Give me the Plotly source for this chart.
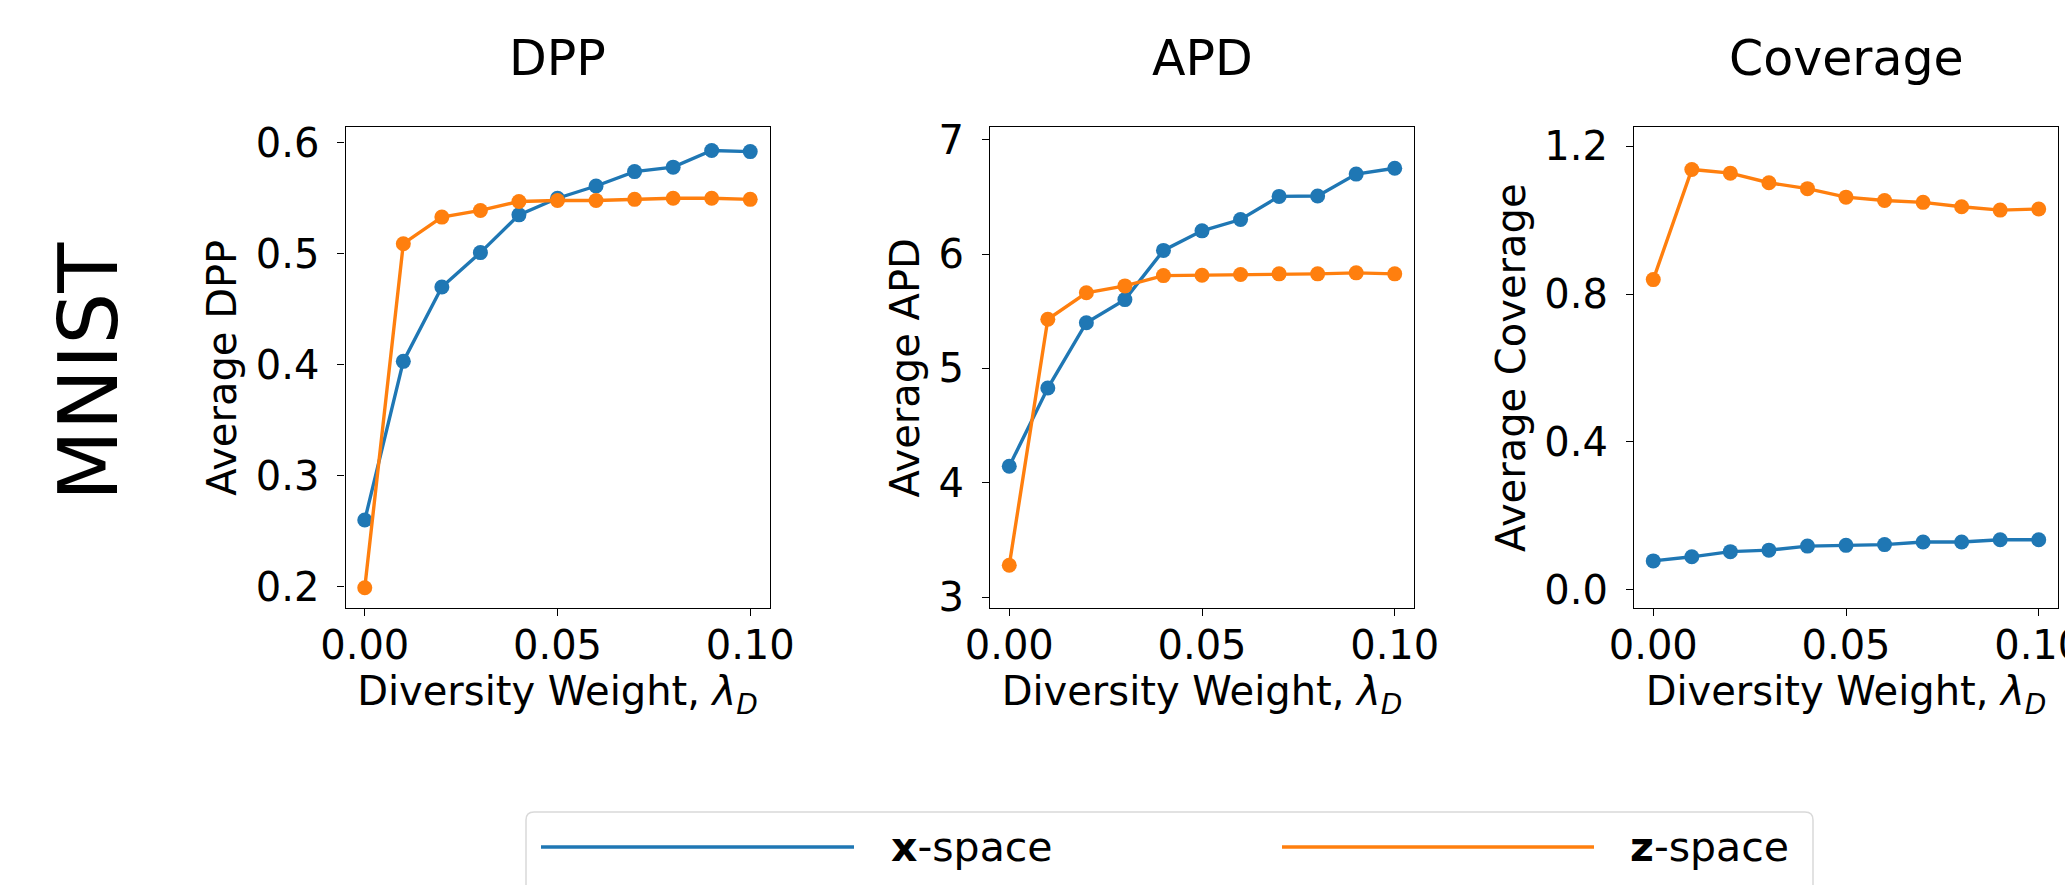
import plotly.graph_objects as go

# ---------------- data ----------------
lambda_d = [0.00, 0.01, 0.02, 0.03, 0.04, 0.05, 0.06, 0.07, 0.08, 0.09, 0.10]

dpp_x = [0.260, 0.403, 0.470, 0.501, 0.535, 0.550, 0.561, 0.574, 0.578, 0.593, 0.592]
dpp_z = [0.199, 0.509, 0.533, 0.539, 0.547, 0.548, 0.548, 0.549, 0.550, 0.550, 0.549]

apd_x = [4.146, 4.829, 5.400, 5.602, 6.032, 6.203, 6.302, 6.504, 6.507, 6.699, 6.750]
apd_z = [3.280, 5.430, 5.662, 5.722, 5.812, 5.815, 5.821, 5.827, 5.827, 5.836, 5.827]

cov_x = [0.078, 0.089, 0.103, 0.107, 0.118, 0.120, 0.122, 0.129, 0.129, 0.135, 0.135]
cov_z = [0.839, 1.137, 1.127, 1.101, 1.085, 1.062, 1.053, 1.048, 1.036, 1.027, 1.030]

panel_titles = ["DPP", "APD", "Coverage"]
y_titles = ["Average DPP", "Average APD", "Average Coverage"]
series_names = ["x-space", "z-space"]
x_ticks = [0.00, 0.05, 0.10]
x_ticktext = ["0.00", "0.05", "0.10"]
y_ticks = [[0.2, 0.3, 0.4, 0.5, 0.6], [3, 4, 5, 6, 7], [0.0, 0.4, 0.8, 1.2]]
y_ticktext = [["0.2", "0.3", "0.4", "0.5", "0.6"], ["3", "4", "5", "6", "7"],
              ["0.0", "0.4", "0.8", "1.2"]]
row_label = "MNIST"

# ---------------- layout helpers ----------------
W, H = 2065, 885
FONT = "DejaVu Sans"
BLUE = "#1f77b4"
ORANGE = "#ff7f0e"


def px(x):
    return x / W


def py(y):
    return 1 - y / H


panel_left = [345.5, 990.0, 1634.0]
panel_w = 424.0
frame_top, frame_bot = 127.3, 608.3
y_ranges = [[0.1805, 0.6139], [2.904, 7.108], [-0.0503, 1.251]]
x_range = [-0.005, 0.105]

fig = go.Figure()
series = [(dpp_x, dpp_z), (apd_x, apd_z), (cov_x, cov_z)]

for i, (sx, sz) in enumerate(series):
    xa = "x" if i == 0 else f"x{i+1}"
    ya = "y" if i == 0 else f"y{i+1}"
    for vals, name, col in ((sx, series_names[0], BLUE), (sz, series_names[1], ORANGE)):
        fig.add_trace(go.Scatter(
            x=lambda_d, y=vals, name=name, mode="lines+markers",
            line=dict(color=col, width=3.4),
            marker=dict(color=col, size=15),
            xaxis=xa, yaxis=ya, showlegend=False,
        ))

axis_common = dict(
    showgrid=False, zeroline=False, showline=True, linecolor="black",
    linewidth=1.3, mirror=True, ticks="outside", ticklen=7, tickwidth=1.3,
    tickcolor="black", tickfont=dict(family=FONT, size=40, color="black"),
    ticklabeloverflow="allow",
)

layout = dict(
    width=W, height=H, margin=dict(l=0, r=0, t=0, b=0),
    paper_bgcolor="white", plot_bgcolor="white",
    font=dict(family=FONT, color="black"),
    showlegend=False,
)

for i in range(3):
    sfx = "" if i == 0 else str(i + 1)
    l = panel_left[i]
    layout["xaxis" + sfx] = dict(
        axis_common, domain=[px(l), px(l + panel_w)],
        anchor="y" + sfx, range=x_range, tickvals=x_ticks, ticktext=x_ticktext,
        automargin=False, ticklabelstandoff=-5,
        title=dict(text="Diversity Weight, <i>λ</i><sub><i>D</i></sub>",
                   font=dict(family=FONT, size=40, color="black"), standoff=8),
    )
    layout["yaxis" + sfx] = dict(
        axis_common, domain=[py(frame_bot), py(frame_top)],
        anchor="x" + sfx, range=y_ranges[i], tickvals=y_ticks[i],
        ticktext=y_ticktext[i], automargin=False, ticklabelstandoff=10,
        title=dict(text=y_titles[i], font=dict(family=FONT, size=40, color="black"),
                   standoff=6),
    )

annotations = []
for i in range(3):
    annotations.append(dict(
        text=panel_titles[i], x=px(panel_left[i] + panel_w / 2), y=py(58),
        xref="paper", yref="paper", xanchor="center", yanchor="middle",
        showarrow=False, font=dict(family=FONT, size=49, color="black"),
    ))

annotations.append(dict(
    text=row_label, x=px(88), y=py(372), xref="paper", yref="paper",
    xanchor="center", yanchor="middle", textangle=-90, showarrow=False,
    font=dict(family=FONT, size=82, color="black"),
))

# legend (drawn manually to match the long sample lines of the reference)
leg_l, leg_r, leg_t, leg_b = 526, 1813, 812, 905
r = 8
path = (f"M {px(leg_l)},{py(leg_b)} L {px(leg_l)},{py(leg_t + r)} "
        f"Q {px(leg_l)},{py(leg_t)} {px(leg_l + r)},{py(leg_t)} "
        f"L {px(leg_r - r)},{py(leg_t)} "
        f"Q {px(leg_r)},{py(leg_t)} {px(leg_r)},{py(leg_t + r)} "
        f"L {px(leg_r)},{py(leg_b)}")
shapes = [dict(type="path", path=path, xref="paper", yref="paper",
               line=dict(color="#d9d9d9", width=1.5), fillcolor="rgba(255,255,255,0.8)")]

leg_y = 847
for (x0, x1, tx, col, label) in ((541, 854, 889, BLUE, "<b>x</b>-space"),
                                  (1282, 1594, 1628, ORANGE, "<b>z</b>-space")):
    shapes.append(dict(type="line", x0=px(x0), x1=px(x1), y0=py(leg_y), y1=py(leg_y),
                       xref="paper", yref="paper", line=dict(color=col, width=3.4)))
    annotations.append(dict(
        text=label, x=px(tx), y=py(leg_y), xref="paper", yref="paper",
        xanchor="left", yanchor="middle", showarrow=False,
        font=dict(family=FONT, size=41, color="black"),
    ))

layout["annotations"] = annotations
layout["shapes"] = shapes

fig.update_layout(**layout)
fig.write_html(
    "out.html",
    config={"displayModeBar": False},
    post_script="document.body.style.margin='0';document.body.style.overflow='hidden';",
)
